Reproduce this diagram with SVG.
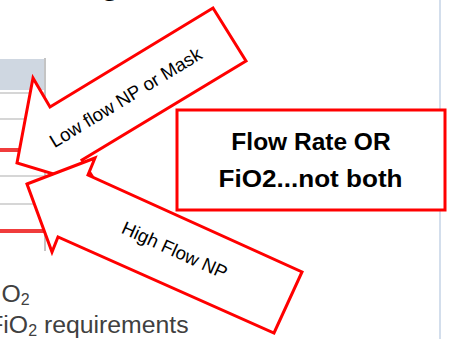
<svg xmlns="http://www.w3.org/2000/svg" width="449" height="339" viewBox="0 0 449 339">
<style>
.arrow{fill:#ffffff;stroke:#ff0000;stroke-width:3;stroke-linejoin:miter}
.lbl{font-family:"Liberation Sans",Arial,sans-serif;font-size:18.6px;fill:#000000}
.boxt{font-family:"Liberation Sans",Arial,sans-serif;font-size:24.5px;font-weight:bold;fill:#000000;text-anchor:middle}
.body{font-family:"Liberation Sans",Arial,sans-serif;font-size:24.8px;fill:#404040}
.grid{stroke:#d6d6d6;stroke-width:2}
.redline{stroke:#f03c3c;stroke-width:4}
</style>
<rect width="449" height="339" fill="#ffffff"/>
<g id="background">
  <text x="101" y="-5" style="font-family:'Liberation Sans',Arial,sans-serif;font-size:30px;font-weight:bold;fill:#000">g</text>
  <rect x="0" y="59" width="44" height="31" fill="#cfd7e1"/>
  <line class="grid" x1="0" y1="93" x2="44" y2="93"/>
  <line class="grid" x1="0" y1="119" x2="44" y2="119"/>
  <line class="redline" x1="0" y1="150" x2="44" y2="150"/>
  <line class="grid" x1="0" y1="176" x2="44" y2="176"/>
  <line class="grid" x1="0" y1="204" x2="44" y2="204"/>
  <line class="redline" x1="0" y1="231" x2="44" y2="231"/>
  <line x1="45" y1="58" x2="45" y2="251" stroke="#c4c4c4" stroke-width="2"/>
  <line x1="440" y1="0" x2="440" y2="339" stroke="#c5d3e6" stroke-width="1.5"/>
  <text class="body" x="1.5" y="302">O<tspan font-size="16" dy="3">2</tspan></text>
  <text class="body" x="-11.8" y="333">FiO<tspan font-size="16" dy="3">2</tspan><tspan dy="-3"> requirements</tspan></text>
</g>
<g id="connectors">
  <g id="low-flow-arrow">
    <polygon class="arrow" points="17,163 33,78 50,107 213,8 246,61 82,160 99.5,188"/>
    <text class="lbl" text-anchor="middle" transform="translate(129,103) rotate(-31.3)">Low flow NP or Mask</text>
  </g>
  <g id="high-flow-arrow">
    <polygon class="arrow" points="27,184 95,158 88,175 302,272 274,333 58,237 52,252"/>
    <text class="lbl" text-anchor="middle" transform="translate(172,256) rotate(24.4)">High Flow NP</text>
  </g>
</g>
<g id="note-box">
  <rect x="177" y="110" width="268" height="100" fill="#ffffff" stroke="#ff0000" stroke-width="3"/>
  <text class="boxt" x="311" y="150">Flow Rate OR</text>
  <text class="boxt" x="310.5" y="187" textLength="184" lengthAdjust="spacingAndGlyphs">FiO2...not both</text>
</g>
</svg>
